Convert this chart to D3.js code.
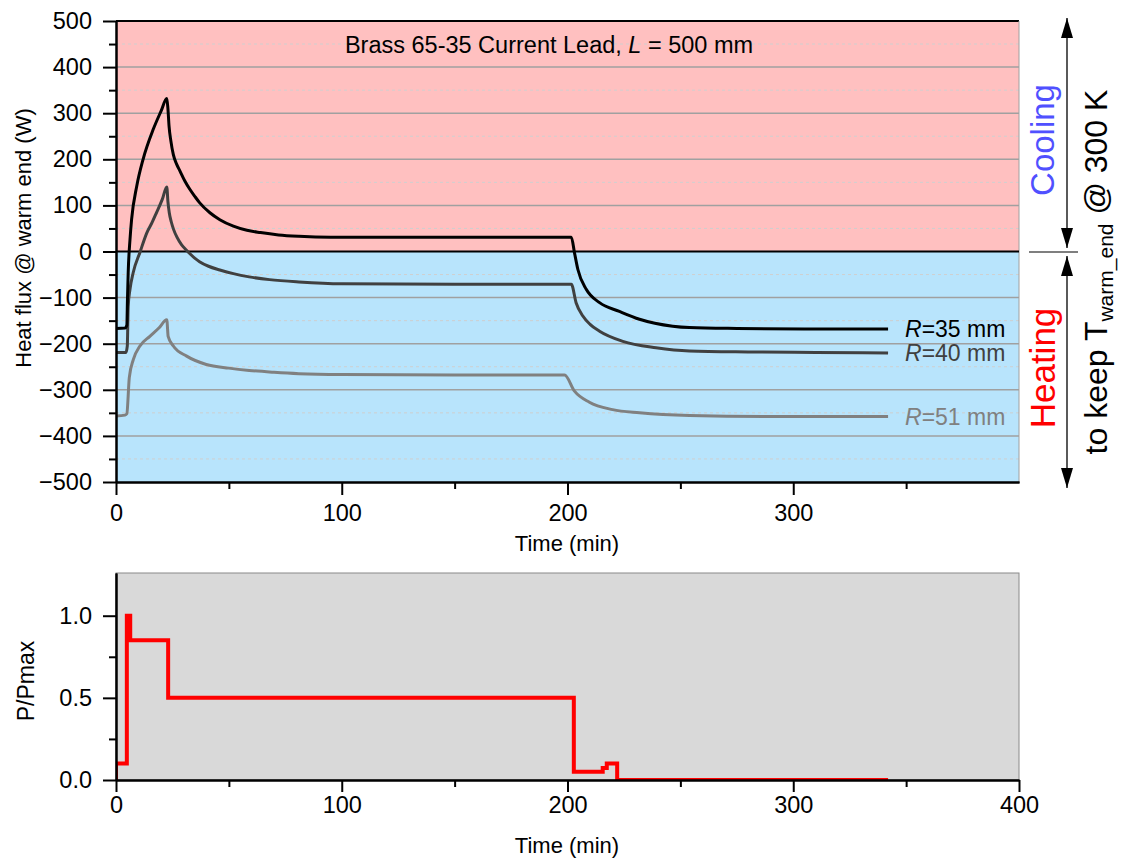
<!DOCTYPE html>
<html>
<head>
<meta charset="utf-8">
<script src="https://cdn.jsdelivr.net/npm/d3@7"></script>
<style>
  body { margin: 0; background: #fff; }
  svg { display: block; font-family: "Liberation Sans", Arial, sans-serif; }
</style>
</head>
<body>
<svg id="chart" width="1121" height="860"></svg>
<script>
// Heat flux at the warm end for three lead radii (time in min, flux in W)
const timeR35 = [0, 4.0, 4.8, 5.1, 5.4, 6.2, 6.9, 9.2, 12, 16.5, 20, 22.5, 23.0, 23.5, 24.3, 25.4, 26.8, 28.3, 30.5, 32.7, 35, 37, 41.6, 46, 52, 58, 64, 72, 81, 95, 120, 160, 201.7, 203.1, 204.6, 208.3, 214.2, 223, 231.9, 246.6, 254, 275, 305, 342];
const fluxR35 = [-167, -166, -160, -100, -46, 26, 69, 142, 200, 265, 305, 332, 310, 272, 240, 210, 190, 175, 153, 135, 119, 106, 84, 69, 55, 46, 41, 36, 33, 31, 31, 31, 31, -3, -39, -82, -111, -130, -147, -162, -165, -167, -168, -168];

const timeR40 = [0, 4.4, 5.0, 5.4, 6.2, 7.6, 10.6, 13.7, 16, 18, 20.5, 22.5, 23.0, 23.6, 24.5, 25.5, 27, 29, 31, 33, 35, 37, 41, 46, 52, 59, 68, 81, 100, 150, 201.7, 203.8, 206.8, 210, 214.2, 224.5, 239.2, 254, 280, 310, 342];
const fluxR40 = [-219, -219, -205, -119, -82, -46, -2, 41, 63, 85, 113, 140, 108, 84, 64, 48, 31, 15, 4, -6, -15, -22, -32, -40, -48, -55, -61, -66, -70, -71, -71, -111, -140, -158, -173, -195, -209, -216, -218, -219, -220];

const timeR51 = [0, 4.0, 4.8, 5.9, 7.7, 10.6, 15, 19, 22.5, 23.1, 25.4, 31.3, 40, 50, 59, 70, 81, 100, 150, 198.7, 203.1, 209.7, 220, 231.9, 254, 290, 342];
const fluxR51 = [-357, -355, -352, -273, -234, -205, -184, -166, -148, -184, -205, -227, -245, -253, -258, -262, -265, -267, -268, -268, -303, -327, -343, -350, -356, -358, -358];

// Normalised power steps (P/Pmax), held until the next time
const powerTime = [0, 0, 4.8, 6.3, 23.1, 202.8, 215.6, 217.4, 222.0, 342];
const powerRatio = [0, 0.1, 1.0, 0.85, 0.5, 0.05, 0.073, 0.1, 0, 0];

// Axis ticks
const fluxTicks = [-500, -400, -300, -200, -100, 0, 100, 200, 300, 400, 500];
const fluxMinor = [-450, -350, -250, -150, -50, 50, 150, 250, 350, 450];
const timeTicksTop = [0, 100, 200, 300];
const timeTicksBottom = [0, 100, 200, 300, 400];
const timeMinor = [50, 150, 250, 350];
const ratioTicks = [0, 0.5, 1.0];
const ratioMinor = [0.25, 0.75];

const seriesLabels = ["35", "40", "51"];
const seriesColors = ["#000000", "#404040", "#808080"];

const svg = d3.select("#chart");
const FONT = 23.5;

// ---------- upper panel ----------
const xTop = d3.scaleLinear().domain([0, 400]).range([116, 1019]);
const yTop = d3.scaleLinear().domain([-500, 500]).range([482, 21]);

const defs = svg.append("defs");
defs.append("clipPath").attr("id", "clipTop")
  .append("rect").attr("x", 116).attr("y", 21).attr("width", 903).attr("height", 461);
defs.append("clipPath").attr("id", "clipBot")
  .append("rect").attr("x", 116).attr("y", 573).attr("width", 903).attr("height", 207);

// cooling / heating bands
svg.append("rect").attr("x", xTop(0)).attr("y", yTop(500))
  .attr("width", xTop(400) - xTop(0)).attr("height", yTop(0) - yTop(500))
  .attr("fill", "#ffc0c0");
svg.append("rect").attr("x", xTop(0)).attr("y", yTop(0))
  .attr("width", xTop(400) - xTop(0)).attr("height", yTop(-500) - yTop(0))
  .attr("fill", "#b8e4fc");

// grid lines
svg.append("g").selectAll("line").data(fluxMinor).join("line")
  .attr("x1", xTop(0)).attr("x2", xTop(400))
  .attr("y1", d => yTop(d)).attr("y2", d => yTop(d))
  .attr("stroke", "#cfcfcf").attr("stroke-width", 1).attr("stroke-dasharray", "3,3");
svg.append("g").selectAll("line").data(fluxTicks.filter(d => d !== 0 && Math.abs(d) !== 500)).join("line")
  .attr("x1", xTop(0)).attr("x2", xTop(400))
  .attr("y1", d => yTop(d)).attr("y2", d => yTop(d))
  .attr("stroke", "#a0a0a0").attr("stroke-width", 1.5);

// frame: top black, right grey, zero line black
svg.append("line").attr("x1", xTop(0)).attr("x2", xTop(400))
  .attr("y1", yTop(500)).attr("y2", yTop(500)).attr("stroke", "#000").attr("stroke-width", 2);
svg.append("line").attr("x1", xTop(400)).attr("x2", xTop(400))
  .attr("y1", yTop(500)).attr("y2", yTop(-500)).attr("stroke", "#a0a0a0").attr("stroke-width", 1);
svg.append("line").attr("x1", xTop(0)).attr("x2", xTop(400))
  .attr("y1", yTop(0)).attr("y2", yTop(0)).attr("stroke", "#000").attr("stroke-width", 2);

// flux curves
const fluxLine = d3.line().x(d => xTop(d[0])).y(d => yTop(d[1])).curve(d3.curveMonotoneX);
const seriesData = [
  d3.zip(timeR35, fluxR35),
  d3.zip(timeR40, fluxR40),
  d3.zip(timeR51, fluxR51)
];
const curves = svg.append("g").attr("clip-path", "url(#clipTop)");
[2, 1, 0].forEach(i => {
  curves.append("path").datum(seriesData[i])
    .attr("d", fluxLine).attr("fill", "none")
    .attr("stroke", seriesColors[i]).attr("stroke-width", 3)
    .attr("stroke-linejoin", "round");
});

// curve labels
const labelY = [fluxR35[fluxR35.length - 1], fluxR40[fluxR40.length - 1], fluxR51[fluxR51.length - 1]];
seriesLabels.forEach((r, i) => {
  const t = svg.append("text").attr("x", 905).attr("y", yTop(labelY[i]) + 8)
    .attr("font-size", 23).attr("fill", seriesColors[i]);
  t.append("tspan").attr("font-style", "italic").text("R");
  t.append("tspan").text("=" + r + " mm");
});

// title
const title = svg.append("text").attr("x", 549).attr("y", 53)
  .attr("text-anchor", "middle").attr("font-size", 23.5);
title.append("tspan").text("Brass 65-35 Current Lead, ");
title.append("tspan").attr("font-style", "italic").text("L");
title.append("tspan").text(" = 500 mm");

function styleAxis(g) {
  g.select(".domain").attr("stroke-width", 2);
  g.selectAll(".tick line").attr("stroke-width", 2);
  g.selectAll(".tick text").attr("font-size", FONT).attr("fill", "#000")
    .attr("font-family", "Liberation Sans, Arial, sans-serif");
}

// upper axes
svg.append("g").attr("transform", `translate(116,0)`)
  .call(d3.axisLeft(yTop).tickValues(fluxMinor).tickSize(7).tickSizeOuter(0).tickFormat(""))
  .call(styleAxis);
svg.append("g").attr("transform", `translate(116,0)`)
  .call(d3.axisLeft(yTop).tickValues(fluxTicks).tickSize(13).tickPadding(11).tickSizeOuter(0).tickFormat(d3.format("d")))
  .call(styleAxis);
svg.append("g").attr("transform", `translate(0,482)`)
  .call(d3.axisBottom(xTop).tickValues(timeMinor).tickSize(7).tickSizeOuter(0).tickFormat(""))
  .call(styleAxis);
svg.append("g").attr("transform", `translate(0,482)`)
  .call(d3.axisBottom(xTop).tickValues(timeTicksTop).tickSize(13).tickPadding(9).tickSizeOuter(0).tickFormat(d3.format("d")))
  .call(styleAxis);

svg.append("text").attr("x", 567).attr("y", 551).attr("text-anchor", "middle")
  .attr("font-size", 22).text("Time (min)");
svg.append("text").attr("transform", "translate(31,238) rotate(-90)")
  .attr("text-anchor", "middle").attr("font-size", 22).text("Heat flux @ warm end (W)");

// side annotations
svg.append("text").attr("transform", "translate(1054,140) rotate(-90)")
  .attr("text-anchor", "middle").attr("font-size", 33).attr("fill", "#5050ff").text("Cooling");
svg.append("text").attr("transform", "translate(1055,368) rotate(-90)")
  .attr("text-anchor", "middle").attr("font-size", 35).attr("fill", "#ff0000").text("Heating");
const keep = svg.append("text").attr("transform", "translate(1107,272) rotate(-90)")
  .attr("text-anchor", "middle").attr("font-size", 32).attr("fill", "#000");
keep.append("tspan").text("to keep T");
keep.append("tspan").attr("font-size", 21).attr("dy", 6).text("warm_end");
keep.append("tspan").attr("dy", -6).text(" @ 300 K");

defs.append("marker").attr("id", "arrowHead").attr("viewBox", "0 0 10 10")
  .attr("refX", 10).attr("refY", 5).attr("markerWidth", 20).attr("markerHeight", 20)
  .attr("markerUnits", "userSpaceOnUse").attr("orient", "auto-start-reverse")
  .append("path").attr("d", "M0,2 L10,5 L0,8 Z").attr("fill", "#000");

[[18, 248], [256, 488]].forEach(([a, b]) => {
  svg.append("line").attr("x1", 1067).attr("x2", 1067).attr("y1", a).attr("y2", b)
    .attr("stroke", "#000").attr("stroke-width", 1.3)
    .attr("marker-start", "url(#arrowHead)").attr("marker-end", "url(#arrowHead)");
});
svg.append("line").attr("x1", 1029).attr("x2", 1078).attr("y1", 252).attr("y2", 252)
  .attr("stroke", "#000").attr("stroke-width", 1.2);

// ---------- lower panel ----------
const xBot = d3.scaleLinear().domain([0, 400]).range([116, 1019]);
const yBot = d3.scaleLinear().domain([0, 1.26]).range([780, 573]);

svg.append("rect").attr("x", xBot(0)).attr("y", yBot(1.26))
  .attr("width", xBot(400) - xBot(0)).attr("height", yBot(0) - yBot(1.26))
  .attr("fill", "#d9d9d9").attr("stroke", "#8a8a8a").attr("stroke-width", 1);

const powerLine = d3.line().x(d => xBot(d[0])).y(d => yBot(d[1])).curve(d3.curveStepAfter);
svg.append("path").datum(d3.zip(powerTime, powerRatio))
  .attr("clip-path", "url(#clipBot)")
  .attr("d", powerLine).attr("fill", "none")
  .attr("stroke", "#ff0000").attr("stroke-width", 4);

svg.append("g").attr("transform", `translate(116,0)`)
  .call(d3.axisLeft(yBot).tickValues(ratioMinor).tickSize(7).tickSizeOuter(0).tickFormat(""))
  .call(styleAxis);
svg.append("g").attr("transform", `translate(116,0)`)
  .call(d3.axisLeft(yBot).tickValues(ratioTicks).tickSize(13).tickPadding(11).tickSizeOuter(0).tickFormat(d3.format(".1f")))
  .call(styleAxis);
svg.append("g").attr("transform", `translate(0,780)`)
  .call(d3.axisBottom(xBot).tickValues(timeMinor).tickSize(7).tickSizeOuter(0).tickFormat(""))
  .call(styleAxis);
svg.append("g").attr("transform", `translate(0,780)`)
  .call(d3.axisBottom(xBot).tickValues(timeTicksBottom).tickSize(12).tickPadding(4).tickSizeOuter(0).tickFormat(d3.format("d")))
  .call(styleAxis);

svg.append("text").attr("x", 567).attr("y", 853).attr("text-anchor", "middle")
  .attr("font-size", 22).text("Time (min)");
svg.append("text").attr("transform", "translate(34,681) rotate(-90)")
  .attr("text-anchor", "middle").attr("font-size", 23).text("P/Pmax");
</script>
</body>
</html>
